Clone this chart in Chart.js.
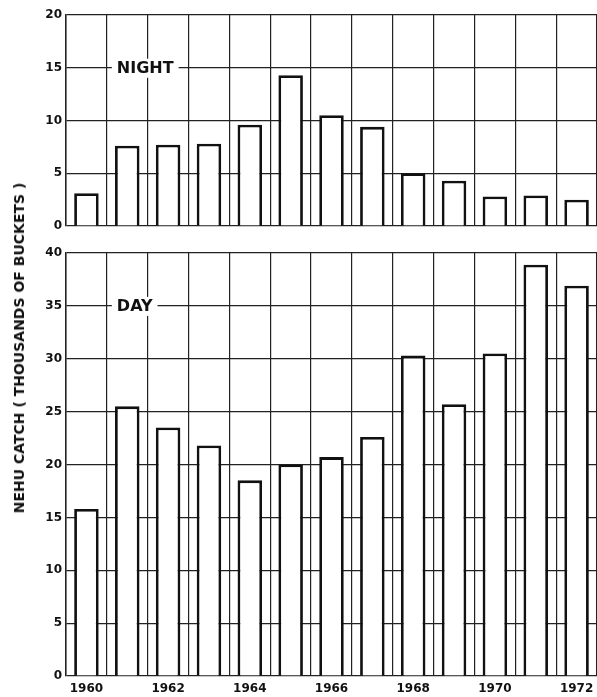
<!DOCTYPE html>
<html>
<head>
<meta charset="utf-8">
<script src="https://cdn.jsdelivr.net/npm/chart.js@4"></script>
<style>
  body { margin: 0; background: #fff; }
  #wrap { position: relative; width: 597px; height: 697px; background: #fff; }
  #nightChart { position: absolute; left: 0; top: 0; }
  #dayChart { position: absolute; left: 0; top: 240px; }
  #ytitle {
    position: absolute; left: 19px; top: 348px;
    transform: translate(-50%, -50%) rotate(-90deg);
    white-space: nowrap;
    font: bold 14px "DejaVu Sans", sans-serif; color: #111;
  }
</style>
</head>
<body>
<div id="wrap">
  <canvas id="nightChart" width="597" height="240"></canvas>
  <canvas id="dayChart" width="597" height="457"></canvas>
  <div id="ytitle">NEHU CATCH ( THOUSANDS OF BUCKETS )</div>
</div>
<script>
const years = ['1960', '1961', '1962', '1963', '1964', '1965', '1966', '1967', '1968', '1969', '1970', '1971', '1972'];
const nightCatch = [3.1, 7.6, 7.7, 7.8, 9.6, 14.3, 10.5, 9.4, 5.0, 4.3, 2.8, 2.9, 2.5];
const dayCatch = [15.8, 25.5, 23.5, 21.8, 18.5, 20.0, 20.7, 22.6, 30.3, 25.7, 30.5, 38.9, 36.9];
const nightMax = 20;
const dayMax = 40;
const tickStep = 5;

const ink = '#111';
const tickFont = { family: 'DejaVu Sans', size: 12, weight: 'bold' };

// NIGHT / DAY tag sitting on a gridline with a white patch behind it
const panelLabel = {
  id: 'panelLabel',
  afterDatasetsDraw(chart, args, opts) {
    const { ctx, scales: { x, y } } = chart;
    const left = (x.getPixelForValue(0) + x.getPixelForValue(1)) / 2 + 10;
    const yy = y.getPixelForValue(opts.value);
    ctx.save();
    ctx.font = 'bold 16px "DejaVu Sans"';
    const w = ctx.measureText(opts.text).width;
    ctx.fillStyle = '#fff';
    ctx.fillRect(left - 5, yy - 9, w + 10, 19);
    ctx.fillStyle = ink;
    ctx.textBaseline = 'middle';
    ctx.fillText(opts.text, left, yy + 1);
    ctx.restore();
  }
};

function makeChart(id, values, max, tag, tagValue, showYears, padTop, xHeight) {
  return new Chart(document.getElementById(id), {
    type: 'bar',
    data: {
      labels: years,
      datasets: [{
        data: values,
        backgroundColor: '#fff',
        borderColor: ink,
        borderWidth: 2.8,
        barPercentage: 0.6,
        categoryPercentage: 1
      }]
    },
    options: {
      responsive: false,
      animation: false,
      devicePixelRatio: 1,
      layout: { padding: { top: padTop, right: 0, bottom: 0, left: 0 } },
      plugins: {
        legend: { display: false },
        tooltip: { enabled: false },
        panelLabel: { text: tag, value: tagValue }
      },
      scales: {
        x: {
          grid: { color: '#222', lineWidth: 1.2, drawTicks: false, offset: true },
          border: { display: false },
          ticks: {
            display: showYears,
            autoSkip: false,
            maxRotation: 0,
            padding: 6,
            color: ink,
            font: tickFont,
            callback: (v, i) => (i % 2 === 0 ? years[i] : '')
          },
          afterFit: s => {
            s.height = xHeight;
            s.paddingLeft = 0;
            s.paddingRight = 0;
          }
        },
        y: {
          min: 0,
          max: max,
          grid: { color: '#222', lineWidth: 1.2, drawTicks: false },
          border: { color: '#222', width: 1.5 },
          ticks: { stepSize: tickStep, padding: 4, color: ink, font: tickFont },
          afterFit: s => { s.width = 66; }
        }
      }
    },
    plugins: [panelLabel]
  });
}

makeChart('nightChart', nightCatch, nightMax, 'NIGHT', 15, false, 15, 14);
makeChart('dayChart', dayCatch, dayMax, 'DAY', 35, true, 13, 21);
</script>
</body>
</html>
